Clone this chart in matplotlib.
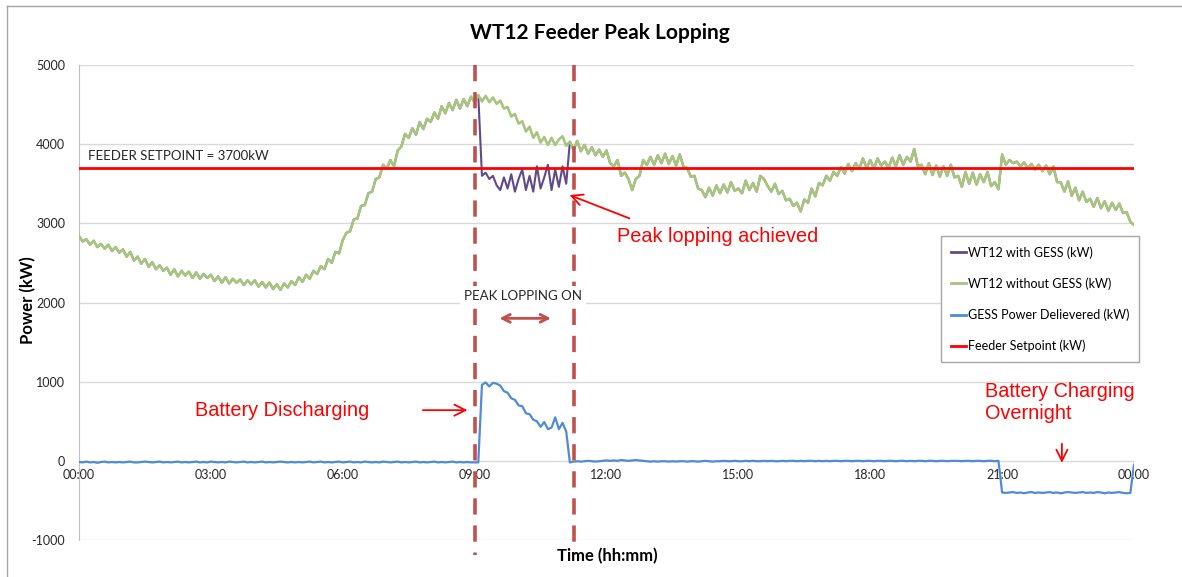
import numpy as np
import matplotlib.pyplot as plt
from matplotlib.lines import Line2D

# 5-minute samples, one row per hour, last value is 24:00
load_without_gess = [
    2840, 2770, 2800, 2730, 2780, 2700, 2740, 2680, 2730, 2650, 2700, 2630,
    2670, 2580, 2640, 2530, 2580, 2490, 2550, 2450, 2510, 2420, 2470, 2400,
    2440, 2350, 2420, 2330, 2400, 2340, 2390, 2310, 2380, 2300, 2360, 2310,
    2350, 2270, 2330, 2250, 2320, 2240, 2300, 2250, 2290, 2220, 2280, 2230,
    2280, 2200, 2260, 2190, 2250, 2170, 2230, 2160, 2240, 2190, 2270, 2220,
    2320, 2260, 2350, 2300, 2400, 2360, 2460, 2420, 2550, 2500, 2640, 2620,
    2790, 2880, 2900, 3050, 3060, 3220, 3230, 3380, 3400, 3560, 3580, 3740,
    3690, 3800, 3720, 3920, 3970, 4130, 4080, 4200, 4120, 4280, 4190, 4320,
    4280, 4400, 4320, 4480, 4390, 4520, 4430, 4560, 4450, 4570, 4480, 4600,
    4530, 4620, 4540, 4610, 4530, 4590, 4510, 4550, 4450, 4470, 4350, 4380,
    4260, 4290, 4160, 4220, 4080, 4150, 4020, 4090, 3990, 4080, 3990, 4060,
    4100, 3980, 4030, 3930, 4040, 3910, 3990, 3880, 3960, 3860, 3930, 3840,
    3920, 3760, 3720, 3800, 3600, 3640, 3560, 3420, 3560, 3600, 3800, 3740,
    3840, 3740, 3860, 3760, 3880, 3750, 3850, 3730, 3870, 3720, 3700, 3590,
    3600, 3440, 3420, 3330, 3450, 3350, 3480, 3380, 3490, 3390, 3520, 3410,
    3440, 3380, 3540, 3420, 3510, 3400, 3600, 3560, 3470, 3400, 3500, 3370,
    3410, 3290, 3310, 3220, 3260, 3150, 3300, 3260, 3440, 3340, 3510, 3480,
    3600, 3540, 3650, 3600, 3710, 3630, 3750, 3660, 3760, 3690, 3820, 3700,
    3800, 3690, 3820, 3730, 3780, 3700, 3830, 3720, 3860, 3740, 3840, 3780,
    3940, 3720, 3740, 3620, 3760, 3610, 3730, 3590, 3720, 3600, 3740, 3580,
    3600, 3460, 3650, 3500, 3640, 3490, 3620, 3520, 3650, 3470, 3520, 3430,
    3870, 3740, 3800, 3760, 3780, 3720, 3770, 3700, 3750, 3680, 3740, 3660,
    3730, 3620, 3720, 3520, 3520, 3400, 3530, 3350, 3450, 3290, 3400, 3270,
    3310, 3210, 3320, 3190, 3280, 3160, 3260, 3170, 3250, 3130, 3140, 3020,
    2980,
]

# with GESS the load follows the feeder without GESS except 09:10 - 11:05
lopped_start = "09:10"
lopped_load = [3600, 3640, 3560, 3600, 3480, 3420, 3580, 3440, 3620, 3400, 3560, 3680,
               3420, 3600, 3400, 3720, 3440, 3580, 3740, 3420, 3680, 3460, 3720, 3500]

gess_power = [
    -15, -20, -10, -20, -15, -25, -15, -10, -20, -15, -20, -15,
    -20, -15, -10, -20, -20, -15, -10, -15, -20, -15, -10, -20,
    -15, -20, -15, -10, -20, -15, -20, -15, -10, -20, -15, -20,
    -10, -15, -20, -15, -20, -10, -15, -20, -15, -10, -20, -15,
    -20, -15, -10, -20, -15, -20, -15, -10, -15, -20, -15, -20,
    -15, -20, -15, -10, -20, -15, -10, -20, -15, -20, -15, -10,
    -20, -15, -10, -20, -15, -20, -10, -15, -20, -15, -20, -10,
    -15, -20, -15, -10, -20, -15, -20, -15, -10, -20, -15, -20,
    -15, -10, -20, -15, -20, -15, -10, -20, -15, -20, -15, -20,
    -20, -20, 960, 990, 940, 985, 975, 950, 880, 860, 790, 770,
    700, 690, 600, 590, 520, 500, 430, 490, 400, 420, 550, 400,
    480, 370, -20, -10, -5, -10, -5, 0, -5, -10, -5, 0,
    5, 0, 5, 0, 10, 5, 0, 5, 10, 5, 0, -5,
    -10, -5, -10, -5, -5, -10, -5, -10, -5, -5, -10, -5,
    -5, -10, -5, 0, -5, -10, -5, -5, 0, -5, -5, 0,
    -5, -5, 0, -5, 0, -5, -5, 0, -5, 0, -5, -5,
    0, -5, 0, 0, -5, 0, -5, 0, 0, -5, 0, -5,
    0, -5, 0, 0, -5, 0, 0, -5, 0, 0, -5, 0,
    0, -5, 0, 0, -5, 0, 0, -5, 0, 0, -5, 0,
    -5, 0, 0, -5, 0, 0, -5, 0, 0, -5, 0, 0,
    0, -5, 0, 0, -5, 0, 0, -5, 0, 0, -5, 0,
    -400, -405, -400, -395, -405, -400, -410, -400, -395, -405, -400, -405,
    -400, -395, -405, -400, -410, -400, -395, -400, -405, -400, -395, -405,
    -400, -405, -395, -400, -410, -400, -405, -400, -395, -405, -410, -405,
    -50,
]

feeder_setpoint = 3700
lopping_window = (9.0, 11.25)   # hours, dashed markers
tick_hours = [0, 3, 6, 9, 12, 15, 18, 21, 24]
tick_labels = ["00:00", "03:00", "06:00", "09:00", "12:00", "15:00", "18:00", "21:00", "00:00"]

hours = np.arange(len(load_without_gess)) * 5 / 60
load_with_gess = np.array(load_without_gess, dtype=float)
h0, m0 = map(int, lopped_start.split(":"))
i0 = (h0 * 60 + m0) // 5
load_with_gess[i0:i0 + len(lopped_load)] = lopped_load

purple = "#5F4B8B"
green = "#A8C47F"
blue = "#4F8BD6"
dash_red = "#C0504D"

plt.rcParams["font.family"] = ["Lato", "DejaVu Sans"]
plt.rcParams["axes.unicode_minus"] = False
fig = plt.figure(figsize=(11.82, 5.77), dpi=100)
ax = fig.add_axes([79 / 1182, 1 - 540 / 577, 1055 / 1182, 475 / 577])

ax.plot(hours, load_with_gess, color=purple, lw=1.5, zorder=3)
ax.plot(hours, load_without_gess, color=green, lw=1.9, zorder=4)
ax.plot(hours, gess_power, color=blue, lw=1.6, zorder=4)
ax.axhline(feeder_setpoint, color="#FF0000", lw=2, zorder=5)

for xv in lopping_window:
    ax.plot([xv, xv], [5000, -1190], color=dash_red, lw=2.6,
            dashes=(4.5, 3), clip_on=False, zorder=6)

ax.set_xlim(0, 24)
ax.set_ylim(-1000, 5000)
ax.set_yticks(range(-1000, 5001, 1000))
ax.set_xticks(tick_hours)
ax.set_xticklabels(tick_labels)
ax.grid(axis="y", color="#D9D9D9", lw=1)
ax.set_axisbelow(True)
for s in ["top", "right"]:
    ax.spines[s].set_visible(False)
ax.spines["bottom"].set_position(("data", 0))
ax.spines["bottom"].set_visible(False)
ax.spines["left"].set_color("#BFBFBF")
ax.tick_params(axis="x", length=0, pad=6, labelsize=9, colors="#262626")
ax.tick_params(axis="y", length=0, pad=10, labelsize=9, colors="#262626")

fig.text(600 / 1182, 1 - 33 / 577, "WT12 Feeder Peak Lopping", ha="center", va="center",
         fontsize=15, fontweight="bold")
fig.text(28 / 1182, 1 - 300 / 577, "Power (kW)", rotation=90, ha="center", va="center",
         fontsize=12, fontweight="bold")
fig.text(607 / 1182, 1 - 556 / 577, "Time (hh:mm)", ha="center", va="center",
         fontsize=12, fontweight="bold")

ax.text(0.2, 3850, "FEEDER SETPOINT = 3700kW", fontsize=9.5, color="#262626", va="center")
ax.text(10.1, 2080, "PEAK LOPPING ON", fontsize=9.5, color="#262626", ha="center", va="center",
        bbox=dict(facecolor="white", edgecolor="none", pad=3), zorder=7)
ax.annotate("", xy=(9.5, 1800), xytext=(10.8, 1800),
            arrowprops=dict(arrowstyle="<->", color=dash_red, lw=2, mutation_scale=14))

red_font = dict(color="#FF0000", fontsize=14.3, family=["Liberation Sans", "DejaVu Sans"])
ax.text(12.24, 2840, "Peak lopping achieved", va="center", **red_font)
ax.annotate("", xy=(11.1, 3370), xytext=(12.58, 3050),
            arrowprops=dict(arrowstyle="->", color="#FF0000", lw=1.3, mutation_scale=20))
ax.text(2.64, 630, "Battery Discharging", va="center", **red_font)
ax.annotate("", xy=(8.9, 640), xytext=(7.76, 640),
            arrowprops=dict(arrowstyle="->", color="#FF0000", lw=1.3, mutation_scale=20))
ax.text(20.6, 740, "Battery Charging\nOvernight", va="center", linespacing=1.2, **red_font)
ax.annotate("", xy=(22.36, -60), xytext=(22.36, 250),
            arrowprops=dict(arrowstyle="->", color="#FF0000", lw=1.3, mutation_scale=20))

handles = [Line2D([], [], color=c, lw=2) for c in [purple, green, blue, "#FF0000"]]
labels = ["WT12 with GESS (kW)", "WT12 without GESS (kW)",
          "GESS Power Delievered (kW)", "Feeder Setpoint (kW)"]
fig.legend(handles, labels, loc="upper left", bbox_to_anchor=(941 / 1182, 1 - 236 / 577),
           fontsize=9, frameon=True, fancybox=False, edgecolor="#A6A6A6",
           handlelength=1.2, handletextpad=0.15, labelspacing=1.5, borderpad=0.8,
           borderaxespad=0, framealpha=1)

# outer chart border
fig.add_artist(Line2D([7 / 1182, 7 / 1182], [0, 1 - 6 / 577], color="#A6A6A6", lw=1))
fig.add_artist(Line2D([7 / 1182, 1], [1 - 6 / 577, 1 - 6 / 577], color="#A6A6A6", lw=1))

fig.savefig("out.png", dpi=100)
